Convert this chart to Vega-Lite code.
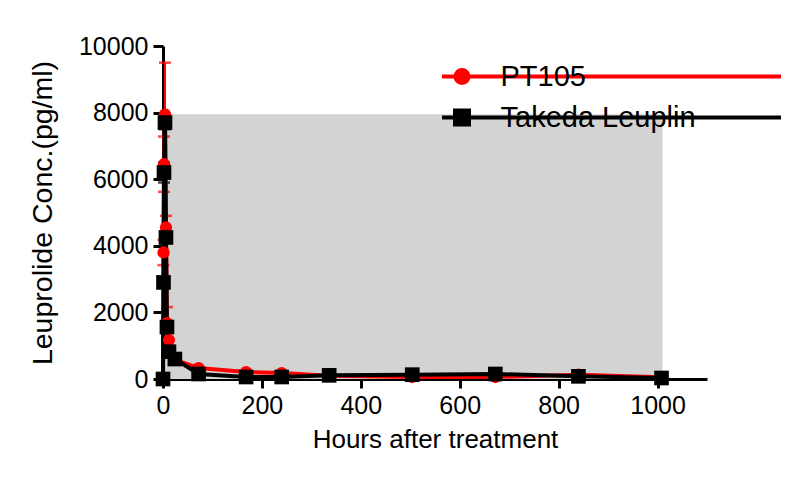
{
  "$schema": "https://vega.github.io/schema/vega-lite/v6.json",
  "width": 544,
  "height": 333,
  "autosize": {"type": "none"},
  "padding": {"left": 163, "top": 46, "right": 84, "bottom": 102},
  "background": "white",
  "config": {
    "view": {"stroke": null},
    "font": "Liberation Sans",
    "axis": {
      "domainColor": "black", "domainWidth": 3, "tickColor": "black", "tickWidth": 3,
      "labelColor": "black", "titleColor": "black", "grid": false,
      "labelFont": "Liberation Sans", "titleFont": "Liberation Sans", "titleFontWeight": "normal"
    }
  },
  "datasets": {
    "band": [{"x1": 0, "x2": 1010, "y1": 0, "y2": 7950}],
    "pk": [
      {"series": "PT105", "t": 0, "conc": 0},
      {"series": "PT105", "t": 1, "conc": 3800, "lo": 3420, "hi": 4180},
      {"series": "PT105", "t": 2, "conc": 6450, "lo": 5620, "hi": 7280},
      {"series": "PT105", "t": 4, "conc": 7950, "lo": 6400, "hi": 9500},
      {"series": "PT105", "t": 6, "conc": 4550, "lo": 4200, "hi": 4900},
      {"series": "PT105", "t": 8, "conc": 1680, "lo": 1200, "hi": 2160},
      {"series": "PT105", "t": 12, "conc": 1170},
      {"series": "PT105", "t": 24, "conc": 570},
      {"series": "PT105", "t": 72, "conc": 330},
      {"series": "PT105", "t": 168, "conc": 210},
      {"series": "PT105", "t": 240, "conc": 180},
      {"series": "PT105", "t": 336, "conc": 100},
      {"series": "PT105", "t": 504, "conc": 60},
      {"series": "PT105", "t": 672, "conc": 60},
      {"series": "PT105", "t": 840, "conc": 130},
      {"series": "PT105", "t": 1008, "conc": 50},
      {"series": "Takeda Leuplin", "t": 0, "conc": 0},
      {"series": "Takeda Leuplin", "t": 1, "conc": 2900},
      {"series": "Takeda Leuplin", "t": 2, "conc": 6200, "lo": 5900, "hi": 6500},
      {"series": "Takeda Leuplin", "t": 4, "conc": 7700, "lo": 7500, "hi": 7900},
      {"series": "Takeda Leuplin", "t": 6, "conc": 4250},
      {"series": "Takeda Leuplin", "t": 8, "conc": 1560},
      {"series": "Takeda Leuplin", "t": 12, "conc": 820},
      {"series": "Takeda Leuplin", "t": 24, "conc": 600},
      {"series": "Takeda Leuplin", "t": 72, "conc": 150},
      {"series": "Takeda Leuplin", "t": 168, "conc": 60},
      {"series": "Takeda Leuplin", "t": 240, "conc": 60},
      {"series": "Takeda Leuplin", "t": 336, "conc": 110},
      {"series": "Takeda Leuplin", "t": 504, "conc": 130},
      {"series": "Takeda Leuplin", "t": 672, "conc": 150},
      {"series": "Takeda Leuplin", "t": 840, "conc": 80},
      {"series": "Takeda Leuplin", "t": 1008, "conc": 30}
    ]
  },
  "layer": [
    {
      "data": {"name": "band"},
      "mark": {"type": "rect", "color": "#d3d3d3"},
      "encoding": {
        "x": {
          "field": "x1", "type": "quantitative", "title": "Hours after treatment",
          "scale": {"domain": [0, 1100], "nice": false, "zero": false},
          "axis": {
            "values": [0, 200, 400, 600, 800, 1000], "format": "d", "labelFlush": false,
            "labelFontSize": 25, "titleFontSize": 26, "tickSize": 9, "labelPadding": 5, "titlePadding": 8
          }
        },
        "x2": {"field": "x2"},
        "y": {
          "field": "y1", "type": "quantitative", "title": "Leuprolide Conc.(pg/ml)",
          "scale": {"domain": [0, 10000], "nice": false},
          "axis": {
            "values": [0, 2000, 4000, 6000, 8000, 10000], "format": "d",
            "labelFontSize": 25, "titleFontSize": 28.5, "tickSize": 10, "labelPadding": 5, "titlePadding": 21
          }
        },
        "y2": {"field": "y2"}
      }
    },
    {
      "data": {"name": "pk"},
      "transform": [{"filter": "isValid(datum.hi)"}],
      "mark": {"type": "errorbar", "ticks": {"size": 12, "thickness": 2.5}, "thickness": 2},
      "encoding": {
        "x": {"field": "t", "type": "quantitative", "title": "Hours after treatment"},
        "y": {"field": "lo", "type": "quantitative", "title": "Leuprolide Conc.(pg/ml)"},
        "y2": {"field": "hi"},
        "color": {"field": "series", "type": "nominal", "scale": {"domain": ["PT105", "Takeda Leuplin"], "range": ["#ff0000", "#000000"]}}
      }
    },
    {
      "data": {"name": "pk"},
      "mark": {"type": "line", "strokeWidth": 4},
      "encoding": {
        "x": {"field": "t", "type": "quantitative", "title": "Hours after treatment"},
        "y": {"field": "conc", "type": "quantitative", "title": "Leuprolide Conc.(pg/ml)"},
        "color": {
          "field": "series", "type": "nominal",
          "legend": {
            "orient": "none", "legendX": 284.5, "legendY": 16, "title": null, "padding": 0,
            "symbolSize": 400, "symbolStrokeWidth": 4, "labelFontSize": 29, "labelOffset": 24,
            "labelLimit": 0, "rowPadding": 10, "labelColor": "black", "labelFont": "Liberation Sans",
            "encode": {
              "symbols": {
                "update": {
                  "shape": {"signal": "datum.value === 'PT105' ? 'M-2,0H31.9M-0.65,0A0.65,0.65 0 1,0 0.65,0A0.65,0.65 0 1,0 -0.65,0Z' : 'M-2,0H31.9M-0.7,-0.7H0.7V0.7H-0.7Z'"},
                  "fill": {"signal": "datum.value === 'PT105' ? '#ff0000' : '#000000'"},
                  "stroke": {"signal": "datum.value === 'PT105' ? '#ff0000' : '#000000'"},
                  "strokeWidth": {"value": 4},
                  "opacity": {"value": 1}
                }
              }
            }
          }
        }
      }
    },
    {
      "data": {"name": "pk"},
      "transform": [{"filter": "datum.series === 'PT105'"}],
      "mark": {"type": "point", "filled": true, "opacity": 1, "shape": "circle", "size": 150},
      "encoding": {
        "x": {"field": "t", "type": "quantitative", "title": "Hours after treatment"},
        "y": {"field": "conc", "type": "quantitative", "title": "Leuprolide Conc.(pg/ml)"},
        "color": {"field": "series", "type": "nominal"}
      }
    },
    {
      "data": {"name": "pk"},
      "transform": [{"filter": "datum.series === 'Takeda Leuplin'"}],
      "mark": {"type": "point", "filled": true, "opacity": 1, "shape": "square", "size": 215},
      "encoding": {
        "x": {"field": "t", "type": "quantitative", "title": "Hours after treatment"},
        "y": {"field": "conc", "type": "quantitative", "title": "Leuprolide Conc.(pg/ml)"},
        "color": {"field": "series", "type": "nominal"}
      }
    }
  ]
}
